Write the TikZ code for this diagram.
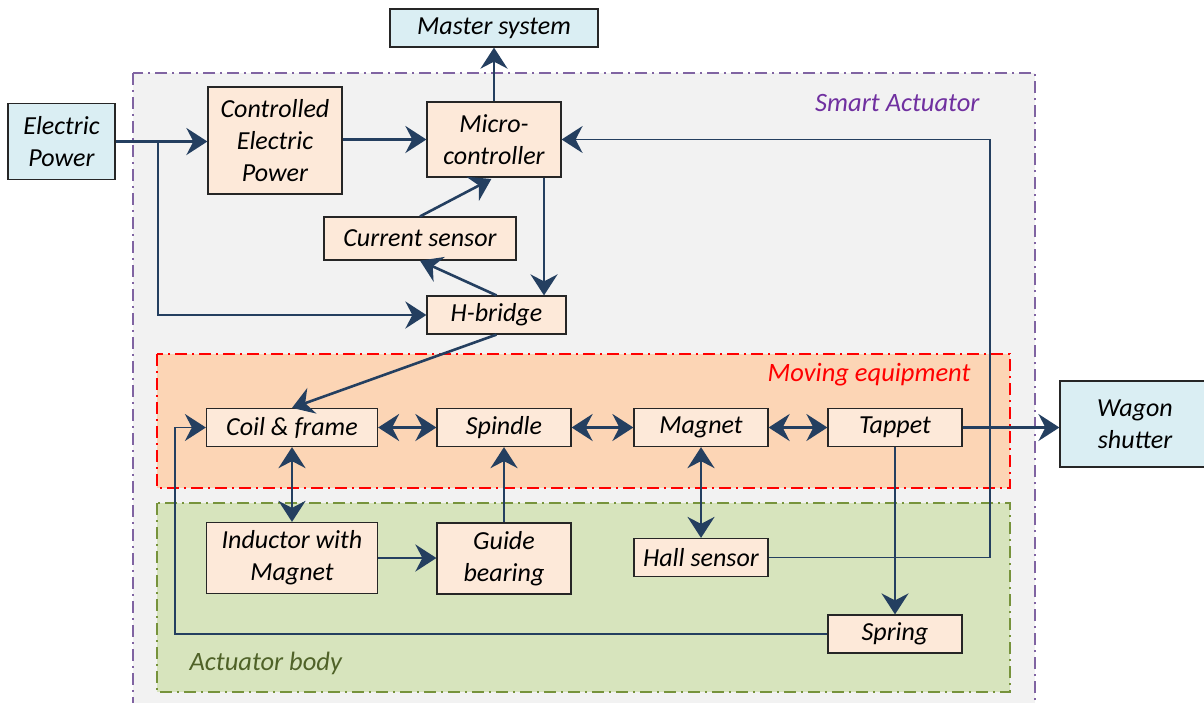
\documentclass[tikz,border=0pt]{standalone}
\usepackage{fontspec}
\setmainfont{Carlito}
\usetikzlibrary{arrows.meta,positioning}

\begin{document}
\begin{tikzpicture}[x=1pt, y=-1pt,
    block/.style={draw=black!85, line width=1.2pt, fill=actpeach, font=\fontsize{26}{32}\selectfont\itshape,
        align=center, inner sep=0pt},
    outer/.style={block, fill=actblue},
    link/.style={draw=actnavy, line width=2.6pt, -{Stealth[length=21pt, width=27pt, inset=7pt]}},
    both/.style={link, {Stealth[length=21pt, width=27pt, inset=7pt]}-{Stealth[length=21pt, width=27pt, inset=7pt]}},
    thinlink/.style={link, line width=1.8pt},
    zone/.style={line width=2pt, dash pattern=on 12pt off 5pt on 2pt off 5pt},
    zonelabel/.style={font=\fontsize{26.5}{30}\selectfont\itshape}]
    % Define colors
    \definecolor{actnavy}{RGB}{36,63,96}
    \definecolor{actpeach}{RGB}{253,233,217}
    \definecolor{actblue}{RGB}{218,238,243}
    \definecolor{actgray}{RGB}{242,242,242}
    \definecolor{actpurple}{RGB}{128,100,162}
    \definecolor{actviolet}{RGB}{112,48,160}
    \definecolor{actorange}{RGB}{252,213,181}
    \definecolor{actgreen}{RGB}{215,228,189}
    \definecolor{actolive}{RGB}{119,147,60}
    \definecolor{actdark}{RGB}{79,98,40}

    \useasboundingbox (0,0) rectangle (1204,702);

    % Zones
    \draw[zone, draw=actpurple, fill=actgray] (133,73) rectangle (1035,712);
    \node[zonelabel, text=actviolet, anchor=east] (smartlbl) at (983,103) {Smart Actuator};
    \draw[zone, draw=red, fill=actorange] (157,354) rectangle (1010,488);
    \node[zonelabel, text=red, anchor=east] (movinglbl) at (974,375) {Moving equipment};
    \draw[zone, draw=actolive, fill=actgreen] (157,503) rectangle (1010,692);
    \node[zonelabel, text=actdark, anchor=west] (bodylbl) at (186,663) {Actuator body};

    % Outside blocks
    \node[outer, minimum width=208pt, minimum height=38pt] (master) at (494,28) {Master system};
    \node[outer, minimum width=107pt, minimum height=76pt] (ep) at (61.5,141.5) {Electric\\Power};
    \node[outer, minimum width=150pt, minimum height=86pt] (wagon) at (1135,424) {Wagon\\shutter};

    % Control blocks
    \node[block, minimum width=134pt, minimum height=107pt] (cep) at (275,140.5) {Controlled\\Electric\\Power};
    \node[block, minimum width=134pt, minimum height=75pt] (micro) at (494,139.5) {Micro-\\controller};
    \node[block, minimum width=192pt, minimum height=43pt] (cs) at (420,238.5) {Current sensor};
    \node[block, minimum width=139pt, minimum height=38pt] (hb) at (496.5,315) {H-bridge};

    % Moving equipment
    \node[block, minimum width=171pt, minimum height=38pt] (coil) at (292,427.5) {Coil \& frame};
    \node[block, minimum width=134pt, minimum height=38pt] (spindle) at (504,427.5) {Spindle};
    \node[block, minimum width=134pt, minimum height=38pt] (magnet) at (701,427.5) {Magnet};
    \node[block, minimum width=134pt, minimum height=38pt] (tappet) at (895,427.5) {Tappet};

    % Actuator body
    \node[block, minimum width=171pt, minimum height=71pt] (ind) at (292,558) {Inductor with\\Magnet};
    \node[block, minimum width=134pt, minimum height=71pt] (guide) at (504,558.5) {Guide\\bearing};
    \node[block, minimum width=134pt, minimum height=38pt] (hall) at (701,557.5) {Hall sensor};
    \node[block, minimum width=134pt, minimum height=38pt] (spring) at (895,634) {Spring};

    % Corner points
    \coordinate (split) at (158,141.5);
    \coordinate (fbk) at (990,139.5);
    \coordinate (ret) at (175,634);

    % Power and control
    \draw[link] (ep.east) -- (ep.east -| cep.west);
    \draw[link] (split) |- (hb.west);
    \draw[link] (cep.east |- micro.west) -- (micro.west);
    \draw[link] (micro.north) -- (micro.north |- master.south);
    \draw[link] ([xshift=50pt]micro.south) -- ([xshift=50pt]micro.south |- hb.north);
    \draw[link, shorten >=3pt] (cs.north) -- (micro.south);
    \draw[link] (hb.north) -- (cs.south);
    \draw[link] (hb.south) -- (coil.north);

    % Mechanics
    \draw[both] (coil.east) -- (spindle.west);
    \draw[both] (spindle.east) -- (magnet.west);
    \draw[both] (magnet.east) -- (tappet.west);
    \draw[link] (tappet.east) -- (tappet.east -| wagon.west);
    \draw[both] (coil.south) -- (ind.north);
    \draw[link] (ind.east) -- (ind.east -| guide.west);
    \draw[link] (guide.north) -- (spindle.south);
    \draw[both] (magnet.south) -- (hall.north);
    \draw[link] (tappet.south) -- (spring.north);

    % Feedback loops
    \draw[thinlink] (hall.east) -| (fbk) -- (micro.east);
    \draw[thinlink] (spring.west) -- (ret) |- (coil.west);
\end{tikzpicture}
\end{document}
